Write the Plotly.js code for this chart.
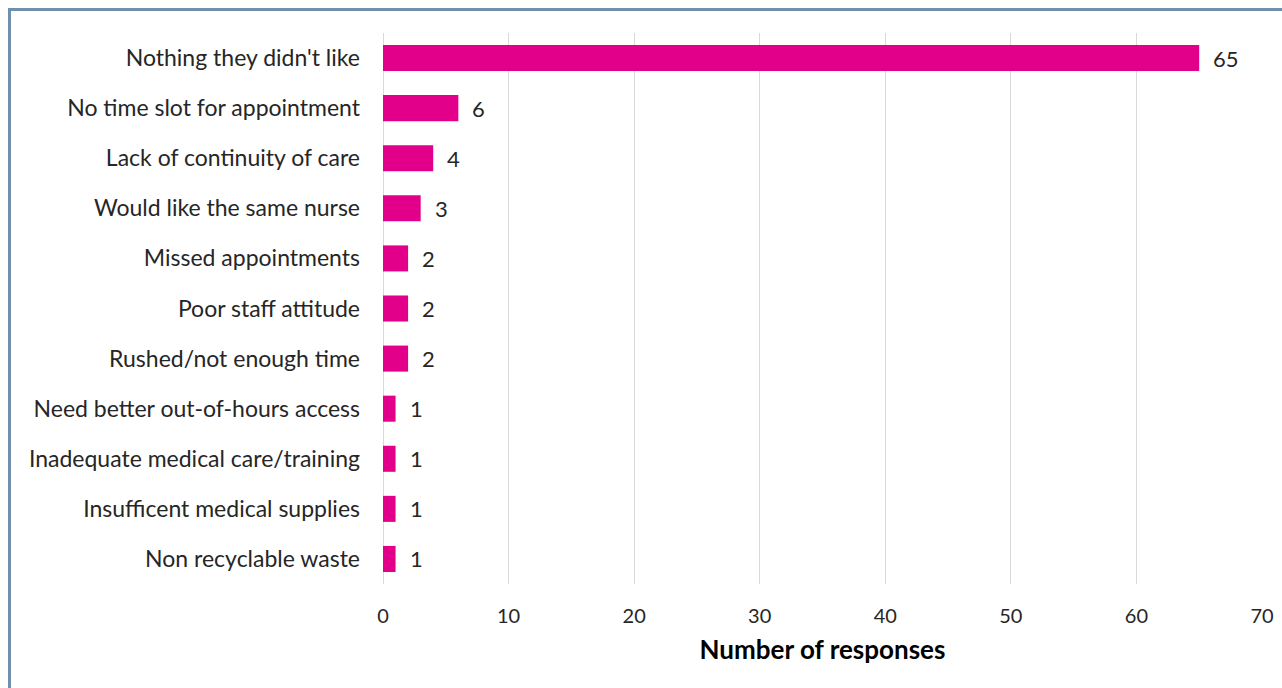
<!DOCTYPE html>
<html><head><meta charset="utf-8">
<script src="https://cdn.plot.ly/plotly-3.0.1.min.js"></script>
<style>
html,body{margin:0;padding:0;background:#fff;}
#wrap{position:absolute;left:0;top:0;width:1282px;height:688px;overflow:hidden;}
#frame{position:absolute;left:8px;top:8px;width:1290px;height:700px;border-left:3px solid #6f8fab;border-top:3px solid #6f8fab;box-sizing:border-box;pointer-events:none;}
#chart{position:absolute;left:0;top:0;width:1282px;height:688px;}
</style></head>
<body><div id="wrap"><div id="chart"></div><div id="frame"></div></div>
<script>
const categories = ["Nothing they didn't like","No time slot for appointment","Lack of continuity of care","Would like the same nurse","Missed appointments","Poor staff attitude","Rushed/not enough time","Need better out-of-hours access","Inadequate medical care/training","Insufficent medical supplies","Non recyclable waste"];
const responses = [65,6,4,3,2,2,2,1,1,1,1];
const xTicks = [0,10,20,30,40,50,60,70];
const xTitle = "Number of responses";

const font = "Lato, 'Open Sans', sans-serif";
const yCats = categories.slice().reverse();
const xVals = responses.slice().reverse();
const annotations = yCats.map((c,i)=>({
  x:xVals[i], y:c, xref:'x', yref:'y', text:String(xVals[i]),
  showarrow:false, xanchor:'left', yanchor:'middle', xshift:12,
  font:{family:font,size:22,color:'#262626'}
}));
Plotly.newPlot('chart',[{
  type:'bar', orientation:'h',
  y:yCats, x:xVals,
  marker:{color:'#e2008b'},
  hoverinfo:'x+y'
}],{
  width:1282,height:688,
  margin:{l:383,r:20,t:33,b:104},
  paper_bgcolor:'#fff',plot_bgcolor:'#fff',
  bargap:0.48,
  font:{family:font,color:'#262626'},
  annotations:annotations,
  xaxis:{range:[0,70],tickvals:xTicks,ticktext:xTicks.map(String),showgrid:true,gridcolor:'#d9d9d9',gridwidth:1,
    zeroline:true,zerolinecolor:'#d9d9d9',showline:false,ticks:'',tickfont:{size:20,family:font,color:'#262626'},
    ticklabelstandoff:18,
    title:{text:xTitle,font:{size:26,family:font,color:'#000',weight:'bold'},standoff:14}},
  yaxis:{type:'category',ticks:'',showline:false,tickfont:{size:23,family:font,color:'#262626'},ticklabelstandoff:22,automargin:false},
  showlegend:false
},{displayModeBar:false,staticPlot:true});
</script></body></html>
